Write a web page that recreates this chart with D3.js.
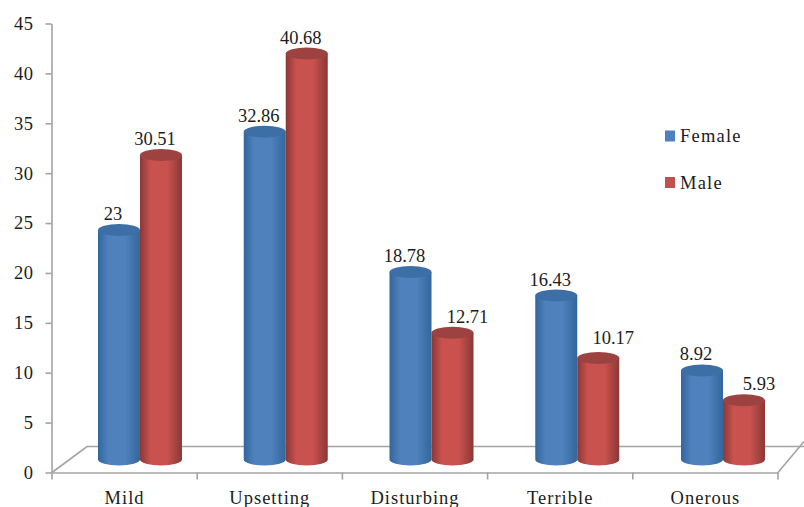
<!DOCTYPE html>
<html>
<head>
<meta charset="utf-8">
<script src="https://cdn.jsdelivr.net/npm/d3@7"></script>
<style>
html,body{margin:0;padding:0;background:#fff;overflow:hidden}
svg{display:block}
text{font-family:"Liberation Serif",serif;fill:#1c1c1c}
</style>
</head>
<body>
<svg id="chart" width="804" height="507"></svg>
<script>
const categories = ["Mild","Upsetting","Disturbing","Terrible","Onerous"];
const seriesNames = ["Female","Male"];
const femaleValues = [23,32.86,18.78,16.43,8.92];
const maleValues = [30.51,40.68,12.71,10.17,5.93];
const yTicks = [0,5,10,15,20,25,30,35,40,45];
const palette = {
  Female:{edge:"#33669c",mid:"#4f81bd",top:"#3d6ea6",swatch:"#4f81bd"},
  Male:{edge:"#8a3836",mid:"#c9524f",top:"#9c4341",swatch:"#c0504d"}
};

const svg = d3.select("#chart");
const axisColor = "#a3a3a3";
const depthX = 35, depthY = 26;
const barW = 42, capRy = 6;
const fontSize = 18.5;

const x = d3.scaleBand().domain(categories).range([52,778]);
const y = d3.scaleLinear().domain([0,45]).range([472.5,23.5]);
// Columns sit on the receding floor, so they use their own, slightly wider band
const xCol = d3.scaleBand().domain(categories).range([67.1,795.9]);
const series = d3.scaleBand().domain(seriesNames).range([-42,42]);
const baseShift = y(0) - 459.5;   // bars stand in the middle of the floor

// Horizontal shading that gives the columns their round look
const defs = svg.append("defs");
seriesNames.forEach(n => {
  const c = palette[n];
  const g = defs.append("linearGradient").attr("id","cyl"+n);
  [[0,c.edge],[0.25,c.mid],[0.65,c.mid],[1,c.edge]].forEach(([o,col]) =>
    g.append("stop").attr("offset",o).attr("stop-color",col));
});

// Floor of the 3D plot
const floor = svg.append("g").attr("fill","none").attr("stroke",axisColor).attr("stroke-width",1.6);
floor.append("path").attr("d",d3.line()([
  [x.range()[0],y(0)],[x.range()[0]+depthX,y(0)-depthY],[804,y(0)-depthY]]));
floor.append("path").attr("d",d3.line()([
  [804,y(0)-depthY-5],[x.range()[1],y(0)]]));

// Value axis
const yAxis = svg.append("g").attr("transform",`translate(${x.range()[0]-0.5},0)`)
  .call(d3.axisLeft(y).tickValues(yTicks).tickSize(6).tickPadding(12).tickSizeOuter(0));
yAxis.selectAll("path,line").attr("stroke",axisColor).attr("stroke-width",1.6);
yAxis.selectAll("text").attr("font-size",fontSize).attr("fill","#1c1c1c")
  .attr("font-family","'Liberation Serif',serif").attr("letter-spacing","0.5px");

// Category axis
const xAxis = svg.append("g").attr("transform",`translate(0,${y(0)})`)
  .call(d3.axisBottom(x).tickSize(0).tickPadding(18).tickSizeOuter(0));
xAxis.selectAll("path").attr("stroke",axisColor).attr("stroke-width",1.6);
xAxis.selectAll("text").attr("font-size",fontSize).attr("fill","#1c1c1c")
  .attr("font-family","'Liberation Serif',serif").attr("letter-spacing","1px");
xAxis.selectAll(".boundary").data(d3.range(categories.length+1)).enter().append("line")
  .attr("x1",i => x.range()[0]+i*x.step()).attr("x2",i => x.range()[0]+i*x.step())
  .attr("y1",0).attr("y2",7).attr("stroke",axisColor).attr("stroke-width",1.6);

// Columns
const rows = [];
categories.forEach((c,i) => {
  rows.push({cat:c,name:"Female",value:femaleValues[i]});
  rows.push({cat:c,name:"Male",value:maleValues[i]});
});
const cx = d => xCol(d.cat)+xCol.bandwidth()/2+series(d.name)+series.bandwidth()/2;
const yb = v => y(v)-baseShift;

const cols = svg.append("g").selectAll("g").data(rows).enter().append("g");
cols.append("path")
  .attr("fill",d => `url(#cyl${d.name})`)
  .attr("d",d => {
    const l = cx(d)-barW/2, r = cx(d)+barW/2;
    return `M${l},${yb(d.value)}L${l},${yb(0)}A${barW/2},${capRy} 0 0 0 ${r},${yb(0)}L${r},${yb(d.value)}Z`;
  });
cols.append("ellipse")
  .attr("cx",cx).attr("cy",d => yb(d.value))
  .attr("rx",barW/2).attr("ry",capRy)
  .attr("fill",d => palette[d.name].top);

// Value labels sit up and to the left of tall columns; short male columns
// have theirs pushed to the right so they clear the neighbouring column
const labelDx = d => (d.name === "Male" && d.value < 15) ? 15 : -6;
const labelDy = d => d.value === 10.17 ? -4 : 0;
svg.append("g").selectAll("text").data(rows).enter().append("text")
  .attr("x",d => cx(d)+labelDx(d)).attr("y",d => yb(d.value)-capRy-4+labelDy(d))
  .attr("text-anchor","middle").attr("font-size",fontSize)
  .text(d => d.value);

// Legend
const legY = d3.scalePoint().domain(seriesNames).range([136,182.5]);
const leg = svg.append("g").selectAll("g").data(seriesNames).enter().append("g")
  .attr("transform",d => `translate(665,${legY(d)})`);
leg.append("rect").attr("x",0).attr("y",-5.5).attr("width",10).attr("height",11)
  .attr("fill",d => palette[d].swatch);
leg.append("text").attr("x",15).attr("y",6).attr("font-size",fontSize)
  .attr("letter-spacing","1.2px").text(d => d);
</script>
</body>
</html>
